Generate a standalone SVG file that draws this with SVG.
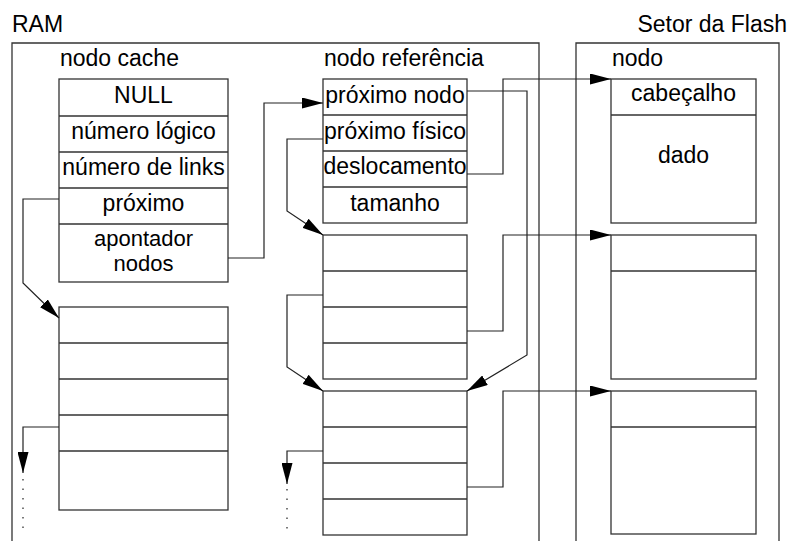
<svg xmlns="http://www.w3.org/2000/svg" width="791" height="541" viewBox="0 0 791 541">
  <style>
    .box { fill: #fff; stroke: #333; stroke-width: 1.3; }
    .ln { fill: none; stroke: #333; stroke-width: 1.3; }
    .wire { fill: none; stroke: #222; stroke-width: 1.2; }
    .dots { fill: none; stroke: #222; stroke-width: 1.2; stroke-dasharray: 1.5 8; }
    text { font-family: "Liberation Sans", Arial, Helvetica, sans-serif; font-size: 23px; fill: #000; }
    .c { text-anchor: middle; }
    .two { font-size: 22px; }
  </style>
  <defs>
    <marker id="arrow" markerUnits="userSpaceOnUse" markerWidth="21" markerHeight="11" refX="21" refY="5.5" orient="auto">
      <path d="M0,0 L21,5.5 L0,11 Z" fill="#000"/>
    </marker>
  </defs>

  <!-- memory regions -->
  <g id="ram">
    <path class="ln" d="M12,541 V43 H539 V541"/>
    <text x="12" y="32">RAM</text>
  </g>
  <g id="flash">
    <path class="ln" d="M576,541 V43 H779 V541"/>
    <text x="787" y="32" text-anchor="end">Setor da Flash</text>
  </g>

  <!-- cache node -->
  <g id="cache-node">
    <text x="60" y="66">nodo cache</text>
    <rect class="box" x="59" y="79" width="169" height="203"/>
    <path class="ln" d="M59,116 H228 M59,152 H228 M59,188 H228 M59,224 H228"/>
    <text class="c" x="143.5" y="103">NULL</text>
    <text class="c" x="143.5" y="139">número lógico</text>
    <text class="c" x="143.5" y="175">número de links</text>
    <text class="c" x="143.5" y="211">próximo</text>
    <text class="c two" x="143.5" y="246">apontador</text>
    <text class="c two" x="143.5" y="271">nodos</text>
  </g>

  <g id="cache-node-2">
    <rect class="box" x="59" y="307" width="169" height="203"/>
    <path class="ln" d="M59,343 H228 M59,379 H228 M59,415 H228 M59,451 H228"/>
  </g>

  <!-- reference nodes -->
  <g id="ref-node">
    <text x="324" y="66">nodo referência</text>
    <rect class="box" x="323" y="79" width="144" height="144"/>
    <path class="ln" d="M323,115 H467 M323,151 H467 M323,187 H467"/>
    <text class="c" x="395" y="103">próximo nodo</text>
    <text class="c" x="395" y="139">próximo físico</text>
    <text class="c" x="395" y="174">deslocamento</text>
    <text class="c" x="395" y="211">tamanho</text>
  </g>

  <g id="ref-node-2">
    <rect class="box" x="323" y="235" width="144" height="144"/>
    <path class="ln" d="M323,271 H467 M323,307 H467 M323,343 H467"/>
  </g>

  <g id="ref-node-3">
    <rect class="box" x="323" y="391" width="144" height="144"/>
    <path class="ln" d="M323,427 H467 M323,463 H467 M323,499 H467"/>
  </g>

  <!-- flash nodes -->
  <g id="flash-node">
    <text x="612" y="66">nodo</text>
    <rect class="box" x="611" y="79" width="145" height="144"/>
    <path class="ln" d="M611,115 H756"/>
    <text class="c" x="683.5" y="101">cabeçalho</text>
    <text class="c" x="683.5" y="163">dado</text>
  </g>

  <g id="flash-node-2">
    <rect class="box" x="611" y="235" width="145" height="144"/>
    <path class="ln" d="M611,271 H756"/>
  </g>

  <g id="flash-node-3">
    <rect class="box" x="611" y="391" width="145" height="143"/>
    <path class="ln" d="M611,427 H756"/>
  </g>

  <!-- pointers -->
  <g id="connectors">
    <path class="wire" marker-end="url(#arrow)" d="M59,199 H23 V283 L59,318"/>
    <path class="wire" marker-end="url(#arrow)" d="M228,258 H264 V103 H323"/>
    <path class="wire" marker-end="url(#arrow)" d="M323,139 H287 V211 L323,235"/>
    <path class="wire" marker-end="url(#arrow)" d="M467,91 H527 V355 L467,391"/>
    <path class="wire" marker-end="url(#arrow)" d="M467,174 H503 V79 H611"/>
    <path class="wire" marker-end="url(#arrow)" d="M467,331 H503 V235 H611"/>
    <path class="wire" marker-end="url(#arrow)" d="M323,295 H287 V367 L323,391"/>
    <path class="wire" marker-end="url(#arrow)" d="M467,487 H503 V391 H611"/>
    <path class="wire" marker-end="url(#arrow)" d="M323,451 H287 V484"/>
    <path class="wire" marker-end="url(#arrow)" d="M59,427 H23 V473"/>
    <path class="dots" d="M287,489 V530"/>
    <path class="dots" d="M23,479 V530"/>
  </g>
</svg>
